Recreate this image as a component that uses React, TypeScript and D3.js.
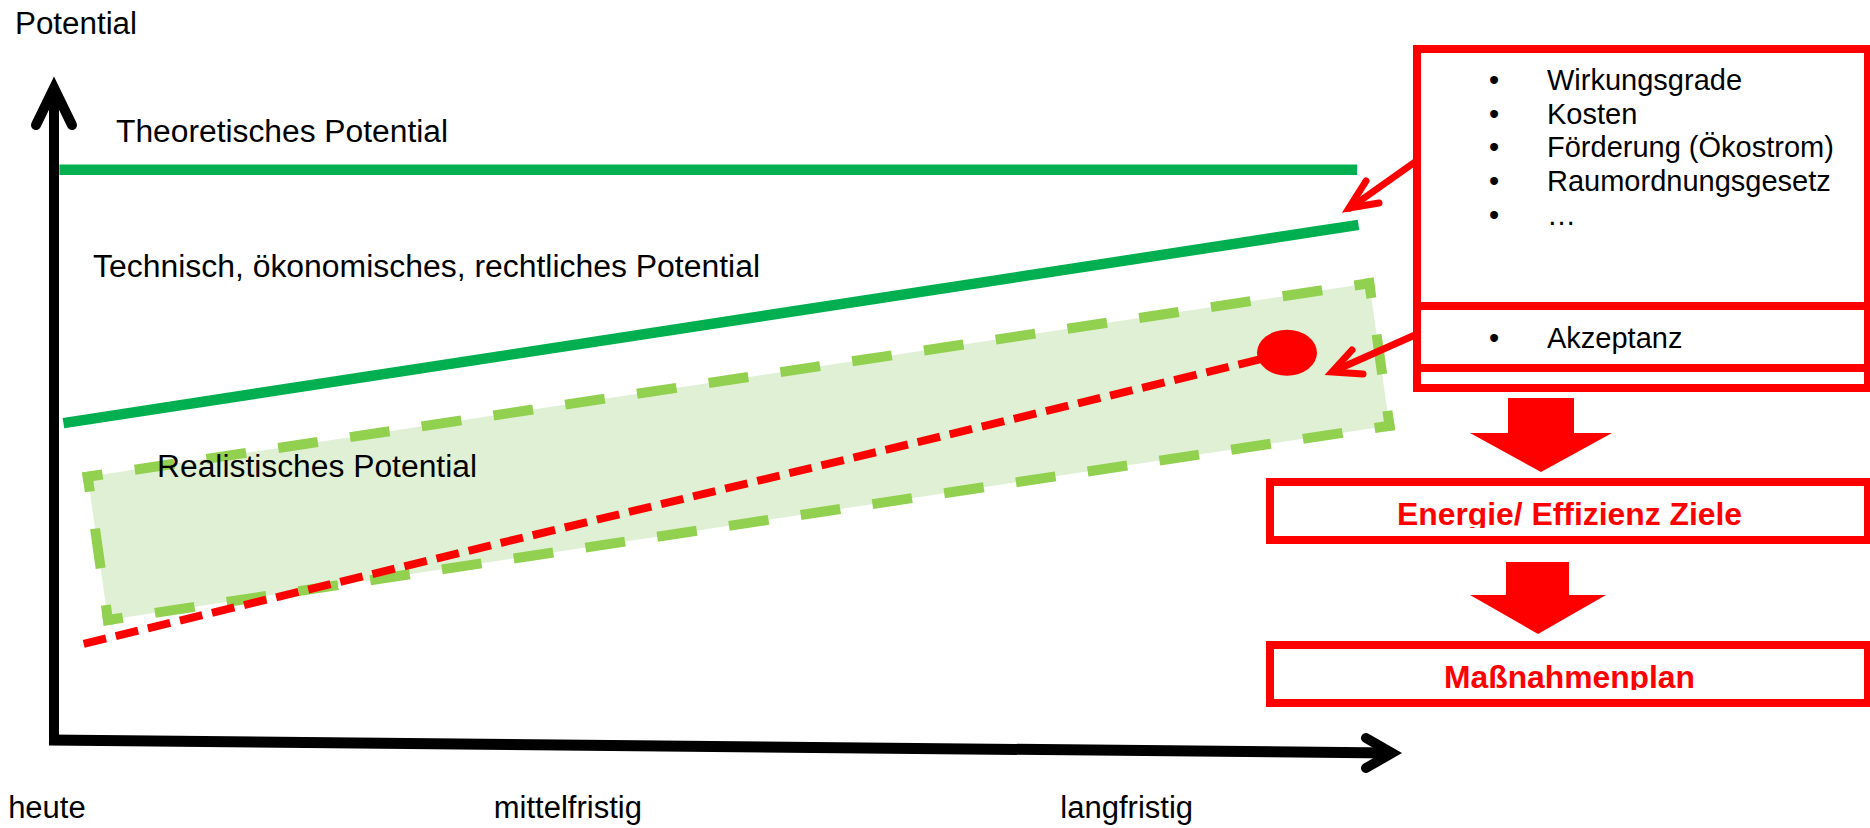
import React from 'react';
import * as d3 from 'd3';

// ---------- data (time 0..100, potential 0..100) ----------
const timeLabels = ['heute', 'mittelfristig', 'langfristig'];
const timeLabelAt = [-3.4, 32.6, 74.6];

const theoreticalTime = [0.4, 96.6];
const theoreticalLevel = [86.0, 86.0];

const technicalTime = [0.7, 96.7];
const technicalLevel = [47.8, 77.7];

const realisticTime = [2.5, 97.5, 99.0, 4.0];
const realisticLevel = [39.7, 68.9, 47.4, 18.1];

const acceptedTime = [2.2, 91.4];
const acceptedLevel = [14.5, 58.4];

const factorItems = ['Wirkungsgrade', 'Kosten', 'Förderung (Ökostrom)', 'Raumordnungsgesetz', '…'];
const acceptanceItems = ['Akzeptanz'];
const flowSteps = ['Energie/ Effizienz Ziele', 'Maßnahmenplan'];

// ---------- styles ----------
const FONT = "'Liberation Sans', Arial, Helvetica, sans-serif";
const GREEN = '#00B050';
const LIGHT_GREEN = '#92D050';
const FILL_GREEN = '#E0F0D4';
const RED = '#FF0000';

export default function App() {
  const x = d3.scaleLinear().domain([0, 100]).range([54, 1403]);
  const y = d3.scaleLinear().domain([0, 100]).range([740, 77]);
  const line = d3.line<[number, number]>().x(d => x(d[0])).y(d => y(d[1]));

  const theo = theoreticalTime.map((t, i) => [t, theoreticalLevel[i]] as [number, number]);
  const tech = technicalTime.map((t, i) => [t, technicalLevel[i]] as [number, number]);
  const real = realisticTime.map((t, i) => [t, realisticLevel[i]] as [number, number]);
  const acc = acceptedTime.map((t, i) => [t, acceptedLevel[i]] as [number, number]);

  const corners = real.map(d => [x(d[0]), y(d[1])]);
  const edges = corners.map((c, i) => {
    const n = corners[(i + 1) % corners.length];
    const dx = n[0] - c[0], dy = n[1] - c[1];
    const len = Math.hypot(dx, dy);
    const ux = dx / len, uy = dy / len;
    const ext = 5;
    const L = len + 2 * ext;
    const k = Math.max(1, Math.round(L / 74));
    const p = L / k;
    return {
      d: `M${c[0] - ux * ext},${c[1] - uy * ext}L${n[0] + ux * ext},${n[1] + uy * ext}`,
      dash: `40 ${p - 40}`,
    };
  });

  const x0 = x(0), yTop = y(100), yBot = y(0);
  const xEnd = x(100);
  const tilt = 12;

  const dot = acc[acc.length - 1];

  return (
    <svg width={1870} height={828} style={{ position: 'absolute', left: 0, top: 0, background: '#fff' }}
      fontFamily={FONT}>
      <defs>
        <clipPath id="clipE"><rect x={1274} y={487} width={592} height={41} /></clipPath>
        <clipPath id="clipM"><rect x={1274} y={649} width={592} height={41} /></clipPath>
      </defs>

      {/* axis title */}
      <text x={15} y={34} fontSize={31} textLength={122} lengthAdjust="spacingAndGlyphs">Potential</text>

      {/* realistic band */}
      <path d={line(real) + 'Z'} fill={FILL_GREEN} stroke="none" />
      {edges.map((e, i) => (
        <path key={i} d={e.d} fill="none" stroke={LIGHT_GREEN} strokeWidth={10}
          strokeDasharray={e.dash} strokeDashoffset={20} />
      ))}

      {/* potential lines */}
      <path d={line(theo) || ''} fill="none" stroke={GREEN} strokeWidth={10.5} />
      <path d={line(tech) || ''} fill="none" stroke={GREEN} strokeWidth={10.5} />

      {/* accepted (red dashed) */}
      <path d={line(acc) || ''} fill="none" stroke={RED} strokeWidth={8} strokeDasharray="23 10" />
      <ellipse cx={x(dot[0])} cy={y(dot[1])} rx={30} ry={23} fill={RED} />

      {/* labels */}
      <text x={116} y={142} fontSize={31} textLength={332} lengthAdjust="spacingAndGlyphs">Theoretisches Potential</text>
      <text x={93} y={277} fontSize={31} textLength={667} lengthAdjust="spacingAndGlyphs">Technisch, ökonomisches, rechtliches Potential</text>
      <text x={157} y={477} fontSize={31} textLength={320} lengthAdjust="spacingAndGlyphs">Realistisches Potential</text>

      {/* axes */}
      <path d={`M${x0},${yBot + 5}L${x0},${yTop + 11}`} stroke="#000" strokeWidth={10} fill="none" />
      <path d={`M${x0 - 18},${yTop + 48}L${x0},${yTop + 11}L${x0 + 18},${yTop + 48}`} stroke="#000" strokeWidth={10}
        fill="none" strokeLinecap="round" strokeLinejoin="miter" strokeMiterlimit={10} />
      <path d={`M${x0 - 5},${yBot}L${xEnd - 11},${yBot + tilt + 1}`} stroke="#000" strokeWidth={11} fill="none" />
      <path d={`M${xEnd - 37},${yBot - 2}L${xEnd - 11},${yBot + tilt + 1}L${xEnd - 37},${yBot + 28}`} stroke="#000"
        strokeWidth={10} fill="none" strokeLinecap="round" strokeLinejoin="miter" strokeMiterlimit={10} />

      {timeLabels.map((t, i) => (
        <text key={t} x={x(timeLabelAt[i])} y={818} fontSize={31}>{t}</text>
      ))}

      {/* factor box */}
      <rect x={1417} y={49} width={451} height={339} fill="#fff" stroke={RED} strokeWidth={8} />
      <line x1={1417} x2={1870} y1={306} y2={306} stroke={RED} strokeWidth={8} />
      <line x1={1417} x2={1870} y1={368} y2={368} stroke={RED} strokeWidth={8} />
      {factorItems.map((t, i) => (
        <g key={t}>
          <text x={1489} y={90 + i * 33.7} fontSize={29}>•</text>
          <text x={1547} y={90 + i * 33.7} fontSize={29}>{t}</text>
        </g>
      ))}
      {acceptanceItems.map(t => (
        <g key={t}>
          <text x={1489} y={348} fontSize={29}>•</text>
          <text x={1547} y={348} fontSize={29}>{t}</text>
        </g>
      ))}

      {/* callout arrows */}
      <path d="M1415,162L1350,208" stroke={RED} strokeWidth={7} strokeLinecap="round" fill="none" />
      <path d="M1366,181L1349,208L1379,203" stroke={RED} strokeWidth={7} strokeLinecap="round" strokeLinejoin="miter" fill="none" />
      <path d="M1415,335L1334,371" stroke={RED} strokeWidth={7} strokeLinecap="round" fill="none" />
      <path d="M1352,350L1332,372L1363,374" stroke={RED} strokeWidth={7} strokeLinecap="round" strokeLinejoin="miter" fill="none" />

      {/* block arrows */}
      <polygon points="1508,398 1574,398 1574,433 1612,433 1541,472 1470,433 1508,433" fill={RED} />
      <polygon points="1506,562 1569,562 1569,595 1606,595 1538,634 1470,595 1506,595" fill={RED} />

      {/* flow boxes */}
      <rect x={1270} y={482} width={598} height={58} fill="#fff" stroke={RED} strokeWidth={8} />
      <rect x={1270} y={645} width={598} height={58} fill="#fff" stroke={RED} strokeWidth={8} />
      <text x={1397} y={525} fontSize={31} fontWeight="bold" fill={RED} textLength={345}
        lengthAdjust="spacingAndGlyphs" clipPath="url(#clipE)">{flowSteps[0]}</text>
      <text x={1444} y={688} fontSize={32} fontWeight="bold" fill={RED} textLength={251}
        lengthAdjust="spacingAndGlyphs" clipPath="url(#clipM)">{flowSteps[1]}</text>
    </svg>
  );
}
